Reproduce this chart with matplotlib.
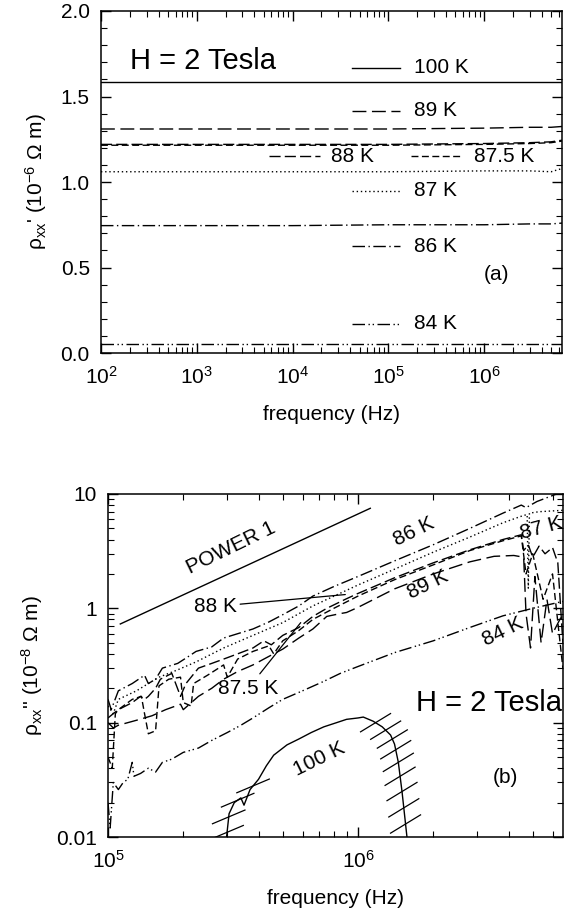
import numpy as np
import matplotlib
matplotlib.use('Agg')
from matplotlib import pyplot as plt
from matplotlib.ticker import MultipleLocator, FixedLocator, NullFormatter

plt.rcParams['font.family'] = ['Liberation Sans', 'DejaVu Sans']
plt.rcParams['mathtext.fontset'] = 'custom'
plt.rcParams['mathtext.rm'] = 'Liberation Sans'
plt.rcParams['mathtext.it'] = 'Liberation Sans'

# ---- panel (a): real part, flat vs frequency ----
f_a = [1e2, 1e3, 1e4, 1e5, 1e6, 3e6, 5e6, 6.6e6]
a_100 = [1.585, 1.585, 1.585, 1.585, 1.585, 1.585, 1.585, 1.585]
a_89 = [1.31, 1.31, 1.31, 1.31, 1.315, 1.32, 1.32, 1.325]
a_88 = [1.22, 1.22, 1.22, 1.22, 1.225, 1.23, 1.235, 1.245]
a_875 = [1.215, 1.215, 1.215, 1.215, 1.22, 1.225, 1.23, 1.24]
a_87 = [1.06, 1.06, 1.06, 1.06, 1.065, 1.065, 1.06, 1.08]
a_86 = [0.745, 0.745, 0.745, 0.75, 0.75, 0.755, 0.755, 0.76]
a_84 = [0.05, 0.05, 0.05, 0.05, 0.05, 0.05, 0.05, 0.05]

# ---- panel (b): imaginary part ----
f_86 = [1.0e5, 1.03e5, 1.10e5, 1.25e5, 1.40e5, 1.45e5, 1.55e5, 1.65e5, 1.9e5, 2.1e5, 2.25e5,
        2.6e5, 2.9e5, 3.3e5, 3.8e5, 4.4e5, 5.0e5, 5.8e5, 6.6e5, 8.0e5, 1.0e6, 1.4e6, 2.0e6,
        2.8e6, 3.8e6, 4.5e6, 4.7e6, 5.2e6, 6.6e6]
b_86 = [0.16, 0.13, 0.19, 0.22, 0.26, 0.22, 0.24, 0.30, 0.33, 0.38, 0.42, 0.46, 0.55, 0.60,
        0.66, 0.76, 0.88, 1.05, 1.28, 1.55, 1.9, 2.6, 3.6, 5.0, 6.8, 8.0, 7.6, 8.6, 10.5]

f_87 = [1.0e5, 1.05e5, 1.1e5, 1.3e5, 1.45e5, 1.6e5, 1.9e5, 2.25e5, 2.9e5, 3.8e5, 5.0e5, 6.6e5,
        1.0e6, 1.4e6, 2.0e6, 2.8e6, 3.8e6, 4.6e6, 4.75e6, 4.8e6, 4.85e6, 5.3e6, 6.6e6]
b_87 = [0.14, 0.12, 0.16, 0.19, 0.22, 0.25, 0.29, 0.34, 0.45, 0.58, 0.75, 1.05, 1.6, 2.2,
        3.1, 4.2, 5.6, 6.5, 6.6, 1.5, 6.8, 7.0, 7.2]

f_88 = [1.0e5, 1.05e5, 1.1e5, 1.25e5, 1.35e5, 1.40e5, 1.45e5, 1.55e5, 1.62e5, 1.8e5, 1.95e5,
        2.05e5, 2.3e5, 2.6e5, 2.9e5, 3.3e5, 3.8e5, 4.2e5, 4.5e5, 5.0e5, 5.8e5, 6.6e5, 7.5e5,
        8.9e5, 1.0e6, 1.4e6, 2.0e6, 2.8e6, 3.8e6, 4.5e6, 4.6e6, 4.8e6, 5.0e6, 5.3e6, 5.6e6,
        6.0e6, 6.3e6, 6.6e6]
b_88 = [0.11, 0.12, 0.13, 0.15, 0.17, 0.16, 0.17, 0.20, 0.24, 0.27, 0.17, 0.22, 0.30, 0.33,
        0.36, 0.40, 0.45, 0.52, 0.48, 0.58, 0.68, 0.85, 1.0, 1.2, 1.35, 1.85, 2.5, 3.25, 4.0,
        4.4, 3.2, 3.6, 2.8, 3.5, 3.0, 3.4, 2.5, 0.5]

f_875 = [1.0e5, 1.04e5, 1.07e5, 1.1e5, 1.25e5, 1.36e5, 1.40e5, 1.45e5, 1.55e5, 1.6e5, 1.75e5,
         1.95e5, 2.0e5, 2.15e5, 2.2e5, 2.5e5, 2.9e5, 3.0e5, 3.3e5, 3.8e5, 4.4e5, 4.6e5, 5.0e5,
         5.8e5, 6.6e5, 8.0e5, 1.0e6, 1.4e6, 2.0e6, 2.8e6, 3.8e6, 4.5e6, 4.7e6, 5.0e6, 5.5e6,
         6.0e6, 6.6e6]
b_875 = [0.05, 0.04, 0.12, 0.13, 0.16, 0.17, 0.12, 0.08, 0.085, 0.21, 0.24, 0.25, 0.15, 0.14,
         0.22, 0.26, 0.32, 0.25, 0.36, 0.42, 0.47, 0.40, 0.52, 0.64, 0.80, 1.0, 1.28, 1.78,
         2.4, 3.2, 3.9, 4.3, 2.0, 3.0, 1.2, 2.0, 0.3]

f_89 = [1.0e5, 1.05e5, 1.1e5, 1.3e5, 1.5e5, 1.7e5, 1.95e5, 2.0e5, 2.3e5, 2.6e5, 2.9e5, 3.3e5,
        3.8e5, 4.4e5, 5.0e5, 5.8e5, 6.6e5, 7.5e5, 8.5e5, 9.0e5, 1.0e6, 1.4e6, 2.0e6, 2.8e6,
        3.5e6, 4.2e6, 4.6e6, 4.7e6, 4.9e6, 5.1e6, 5.4e6, 5.7e6, 6.0e6, 6.6e6]
b_89 = [0.10, 0.09, 0.095, 0.105, 0.115, 0.13, 0.145, 0.13, 0.17, 0.20, 0.24, 0.28, 0.32,
        0.38, 0.44, 0.55, 0.66, 0.85, 0.90, 0.92, 1.02, 1.48, 2.0, 2.55, 2.85, 2.9, 2.8, 0.9,
        0.45, 1.9, 0.5, 1.2, 0.6, 0.9]

f_84 = [1.0e5, 1.02e5, 1.05e5, 1.1e5, 1.15e5, 1.2e5, 1.25e5, 1.27e5, 1.35e5, 1.45e5, 1.55e5,
        1.65e5, 1.8e5, 2.0e5, 2.3e5, 2.6e5, 3.0e5, 3.4e5, 3.8e5, 4.4e5, 5.0e5, 6.0e5, 7.3e5,
        8.5e5, 1.0e6, 1.4e6, 2.0e6, 2.8e6, 3.8e6, 5.0e6, 6.6e6]
b_84 = [0.02, 0.012, 0.03, 0.026, 0.03, 0.032, 0.045, 0.034, 0.036, 0.04, 0.037, 0.045, 0.048,
        0.055, 0.060, 0.070, 0.082, 0.095, 0.11, 0.135, 0.16, 0.19, 0.23, 0.27, 0.31, 0.41,
        0.52, 0.68, 0.86, 1.0, 1.15]

f_100 = [2.98e5, 3.05e5, 3.2e5, 3.4e5, 3.5e5, 3.7e5, 4.0e5, 4.3e5, 4.6e5, 5.2e5, 5.8e5, 6.5e5,
         7.3e5, 8.2e5, 9.0e5, 1.0e6, 1.05e6, 1.15e6, 1.25e6, 1.35e6, 1.40e6, 1.45e6, 1.50e6,
         1.57e6]
b_100 = [0.01, 0.016, 0.02, 0.022, 0.019, 0.026, 0.032, 0.042, 0.052, 0.064, 0.072, 0.082,
         0.092, 0.10, 0.107, 0.11, 0.112, 0.103, 0.092, 0.078, 0.065, 0.045, 0.025, 0.01]

f_pow = [1.12e5, 1.12e6]
b_pow = [0.73, 7.5]

ls_89 = (0, (10, 4))
ls_88 = (0, (8, 3))
ls_875 = (0, (5, 2.5))
ls_87 = (0, (1, 2))
ls_86 = (0, (9, 2.5, 1, 2.5))
ls_84 = (0, (9, 2.5, 1, 2, 1, 2.5))
lw = 1.0
fs = 15

fig = plt.figure(figsize=(5.64, 9.16), dpi=100)
ax1 = fig.add_axes([0.179, 0.6146, 0.8175, 0.3734])
ax2 = fig.add_axes([0.1915, 0.0862, 0.8065, 0.3745])

for ax in (ax1, ax2):
    ax.tick_params(which='both', direction='in', top=True, right=True, labelsize=fs)
    ax.tick_params(which='major', length=7, width=1)
    ax.tick_params(which='minor', length=4, width=0.8)
    ax.tick_params(axis='y', which='major', pad=8)
    ax.tick_params(axis='x', which='major', pad=9)
    for s in ax.spines.values():
        s.set_linewidth(1.1)

# panel (a)
ax1.semilogx(f_a, a_100, 'k-', lw=lw)
ax1.semilogx(f_a, a_89, 'k', ls=ls_89, lw=lw)
ax1.semilogx(f_a, a_88, 'k', ls=ls_88, lw=lw)
ax1.semilogx(f_a, a_875, 'k', ls=ls_875, lw=lw)
ax1.semilogx(f_a, a_87, 'k', ls=ls_87, lw=lw)
ax1.semilogx(f_a, a_86, 'k', ls=ls_86, lw=lw)
ax1.semilogx(f_a, a_84, 'k', ls=ls_84, lw=lw)
ax1.set_xlim(1e2, 6.5e6)
ax1.set_ylim(0, 2.0)
ax1.yaxis.set_major_locator(MultipleLocator(0.5))
ax1.yaxis.set_minor_locator(MultipleLocator(0.1))
ax1.yaxis.set_major_formatter(plt.FormatStrFormatter('%.1f'))
ax1.set_xlabel('frequency (Hz)', fontsize=fs, labelpad=13)
ax1.set_ylabel("ρ$_{xx}$' (10$^{-6}$ Ω m)", fontsize=fs, labelpad=8)

# in-plot key for panel (a)
keys = [(0.544, 0.649, 0.834, '-', '100 K', 0.68),
        (0.544, 0.649, 0.709, ls_89, '89 K', 0.68),
        (0.365, 0.474, 0.576, ls_88, '88 K', 0.50),
        (0.672, 0.781, 0.576, ls_875, '87.5 K', 0.808),
        (0.544, 0.649, 0.475, ls_87, '87 K', 0.68),
        (0.544, 0.649, 0.312, ls_86, '86 K', 0.68),
        (0.544, 0.649, 0.085, ls_84, '84 K', 0.68)]
for x0, x1, y, ls, lab, xt in keys:
    ax1.plot([x0, x1], [y, y], color='k', ls=ls, lw=lw, transform=ax1.transAxes)
    ax1.text(xt, y, lab, fontsize=fs, va='center', ha='left', transform=ax1.transAxes)
ax1.text(0.062, 0.854, 'H = 2 Tesla', fontsize=21, va='center', transform=ax1.transAxes)
ax1.text(0.83, 0.229, '(a)', fontsize=fs, va='center', transform=ax1.transAxes)

# panel (b)
ax2.loglog(f_pow, b_pow, 'k-', lw=lw)
ax2.loglog(f_86, b_86, 'k', ls=ls_86, lw=lw)
ax2.loglog(f_87, b_87, 'k', ls=ls_87, lw=lw)
ax2.loglog(f_88, b_88, 'k', ls=ls_88, lw=lw)
ax2.loglog(f_875, b_875, 'k', ls=ls_875, lw=lw)
ax2.loglog(f_89, b_89, 'k', ls=ls_89, lw=lw)
ax2.loglog(f_84, b_84, 'k', ls=ls_84, lw=lw)
ax2.loglog(f_100, b_100, 'k-', lw=lw)

# hatch marks on the 100 K curve
lf = np.log10(f_100)
lb = np.log10(b_100)
ipk = int(np.argmax(b_100))
for v in [0.011, 0.015, 0.021, 0.028]:
    fc = 10 ** np.interp(np.log10(v), lb[:ipk], lf[:ipk])
    ax2.plot([fc * 10 ** -0.065, fc * 10 ** 0.065], [v * 10 ** -0.06, v * 10 ** 0.06], 'k-', lw=0.9)
for v in [0.1, 0.086, 0.072, 0.058, 0.045, 0.034, 0.025, 0.018, 0.013]:
    fc = 10 ** np.interp(np.log10(v), lb[ipk:][::-1], lf[ipk:][::-1])
    ax2.plot([fc * 10 ** -0.06, fc * 10 ** 0.06], [v * 10 ** -0.08, v * 10 ** 0.08], 'k-', lw=0.9)

ax2.set_xlim(1e5, 6.6e6)
ax2.set_ylim(0.01, 10)
ax2.yaxis.set_major_locator(FixedLocator([0.01, 0.1, 1, 10]))
ax2.set_yticklabels(['0.01', '0.1', '1', '10'])
ax2.yaxis.set_minor_formatter(NullFormatter())
ax2.xaxis.set_minor_formatter(NullFormatter())
ax2.set_xlabel('frequency (Hz)', fontsize=fs, labelpad=13)
ax2.set_ylabel("ρ$_{xx}$'' (10$^{-8}$ Ω m)", fontsize=fs, labelpad=8)

rot = 26
ax2.text(3.1e5, 3.4, 'POWER 1', fontsize=fs, rotation=rot, ha='center', va='center')
ax2.text(1.67e6, 4.7, '86 K', fontsize=fs, rotation=rot, ha='center', va='center')
ax2.text(1.9e6, 1.6, '89 K', fontsize=fs, rotation=rot, ha='center', va='center')
ax2.text(3.8e6, 0.63, '84 K', fontsize=fs, rotation=rot, ha='center', va='center')
ax2.text(5.4e6, 5.0, '87 K', fontsize=fs, rotation=15, ha='center', va='center')
ax2.text(7.0e5, 0.048, '100 K', fontsize=fs, rotation=rot, ha='center', va='center')
ax2.annotate('88 K', xy=(8.9e5, 1.32), xytext=(2.7e5, 1.04), fontsize=fs,
             ha='center', va='center', arrowprops=dict(arrowstyle='-', lw=0.9, shrinkA=0, shrinkB=0))
ax2.annotate('87.5 K', xy=(5.9e5, 0.75), xytext=(3.64e5, 0.2), fontsize=fs,
             ha='center', va='center', arrowprops=dict(arrowstyle='-', lw=0.9, shrinkA=2, shrinkB=0))
ax2.text(1.7e6, 0.15, 'H = 2 Tesla', fontsize=21, ha='left', va='center')
ax2.text(3.9e6, 0.033, '(b)', fontsize=fs, ha='center', va='center')

fig.savefig('out.png', dpi=100)
